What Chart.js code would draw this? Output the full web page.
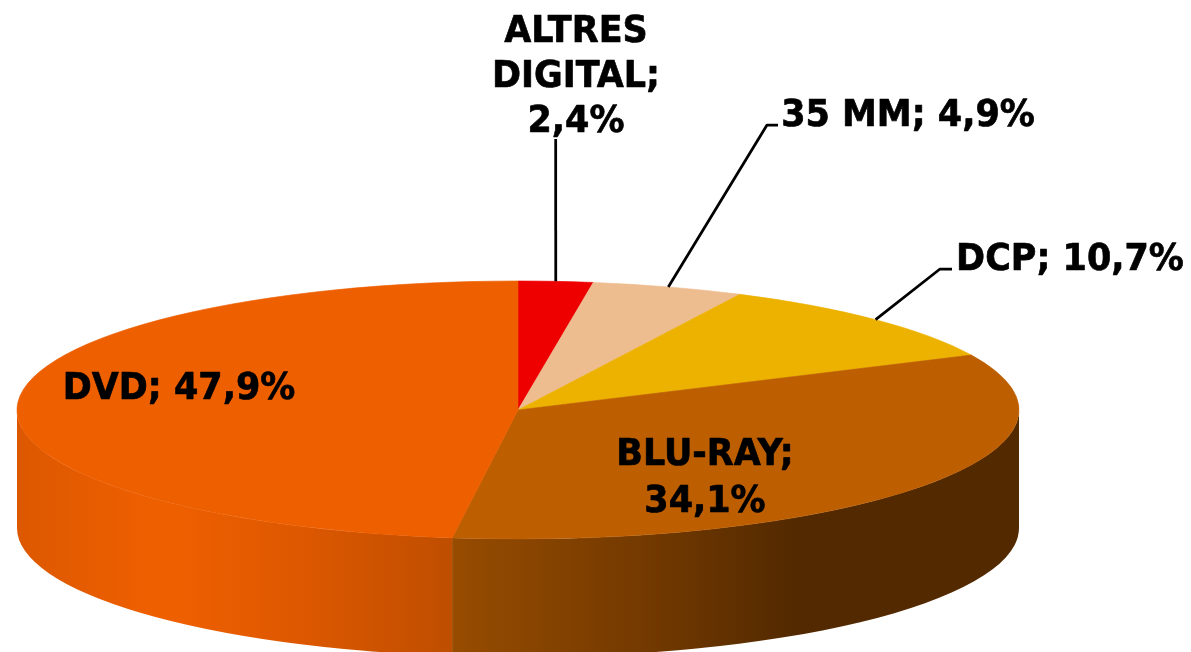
<!DOCTYPE html>
<html>
<head>
<meta charset="utf-8">
<style>html,body{margin:0;padding:0;background:#fff}canvas{display:block}</style>
<script src="https://cdn.jsdelivr.net/npm/chart.js@4/dist/chart.umd.min.js"></script>
</head>
<body>
<canvas id="c" width="1191" height="652"></canvas>
<script>
const categories = ['ALTRES DIGITAL', '35 MM', 'DCP', 'BLU-RAY', 'DVD'];
const shares = [2.4, 4.9, 10.7, 34.1, 47.9];
const shareLabels = ['2,4%', '4,9%', '10,7%', '34,1%', '47,9%'];
const topColors = ['#EE0000', '#EDBC8F', '#EDB200', '#BD5E00', '#EE5F00'];

// Presentation of the tilted pie
const SQUASH = 129 / 501, DEPTH = 118, RADIUS = 501;
const FONT = 'bold 37px "DejaVu Sans"';
const TEXT_XSCALE = 0.945;
const sideStops = {
  3: [[452, '#974C00'], [640, '#743A00'], [800, '#522900'], [1020, '#532900']],
  4: [[17, '#DC5800'], [150, '#EE5F00'], [180, '#EE5F00'], [300, '#DD5800'], [452, '#BF4E00']]
};
const labelLayout = [
  {lines: ['ALTRES', 'DIGITAL;', shareLabels[0]], x: 576, y: [42, 87, 132], leader: [[555.7, 139]]},
  {lines: [categories[1] + '; ' + shareLabels[1]], x: 908, y: [126], leader: [[767, 125], [778, 125]]},
  {lines: [categories[2] + '; ' + shareLabels[2]], x: 1070, y: [270], leader: [[940, 269], [952, 269]]},
  {lines: ['BLU-RAY;', shareLabels[3]], x: 705, y: [465, 512]},
  {lines: [categories[4] + '; ' + shareLabels[4]], x: 179, y: [399]}
];

const pie3d = {
  id: 'pie3d',
  beforeDatasetsDraw(chart) {
    const ctx = chart.ctx;
    chart.getDatasetMeta(0).data.forEach((arc, i) => {
      const a0 = Math.max(arc.startAngle, 0), a1 = Math.min(arc.endAngle, Math.PI);
      if (a1 <= a0 || !sideStops[i]) return;
      const ry = arc.outerRadius * SQUASH;
      const left = arc.x + arc.outerRadius * Math.cos(a1), right = arc.x + arc.outerRadius * Math.cos(a0);
      const g = ctx.createLinearGradient(left, 0, right, 0);
      sideStops[i].forEach(([x, col]) => g.addColorStop(Math.min(1, Math.max(0, (x - left) / (right - left))), col));
      ctx.save();
      ctx.beginPath();
      ctx.ellipse(arc.x, arc.y, arc.outerRadius, ry, 0, a0, a1);
      ctx.ellipse(arc.x, arc.y + DEPTH, arc.outerRadius, ry, 0, a1, a0, true);
      ctx.closePath();
      ctx.fillStyle = g;
      ctx.fill();
      ctx.restore();
    });
    const first = chart.getDatasetMeta(0).data[0];
    ctx.save();
    ctx.translate(0, first.y);
    ctx.scale(1, SQUASH);
    ctx.translate(0, -first.y);
  },
  afterDatasetsDraw(chart) {
    const ctx = chart.ctx;
    ctx.restore();
    ctx.save();
    ctx.strokeStyle = '#000';
    chart.getDatasetMeta(0).data.forEach((arc, i) => {
      const lay = labelLayout[i];
      if (lay.leader) {
        const mid = (arc.startAngle + arc.endAngle) / 2;
        ctx.lineWidth = 2.75;
        ctx.beginPath();
        ctx.moveTo(arc.x + arc.outerRadius * Math.cos(mid), arc.y + arc.outerRadius * SQUASH * Math.sin(mid));
        lay.leader.forEach(([x, y]) => ctx.lineTo(x, y));
        ctx.stroke();
      }
      ctx.fillStyle = '#000';
      ctx.font = FONT;
      ctx.textAlign = 'center';
      ctx.textBaseline = 'alphabetic';
      ctx.lineWidth = 0.7;
      ctx.lineJoin = 'round';
      lay.lines.forEach((t, k) => {
        ctx.save();
        ctx.translate(lay.x, lay.y[k]);
        ctx.scale(TEXT_XSCALE, 1);
        ctx.fillText(t, 0, 0);
        ctx.strokeText(t, 0, 0);
        ctx.restore();
      });
    });
    ctx.restore();
  }
};

new Chart(document.getElementById('c'), {
  type: 'pie',
  data: {
    labels: categories,
    datasets: [{
      data: shares,
      backgroundColor: topColors,
      borderColor: topColors,
      borderWidth: 1,
      radius: RADIUS,
      clip: false
    }]
  },
  options: {
    responsive: false,
    animation: false,
    layout: {padding: {top: 168, right: 155, left: 0, bottom: 0}},
    plugins: {legend: {display: false}, tooltip: {enabled: false}, title: {display: false}}
  },
  plugins: [pie3d]
});
</script>
</body>
</html>
